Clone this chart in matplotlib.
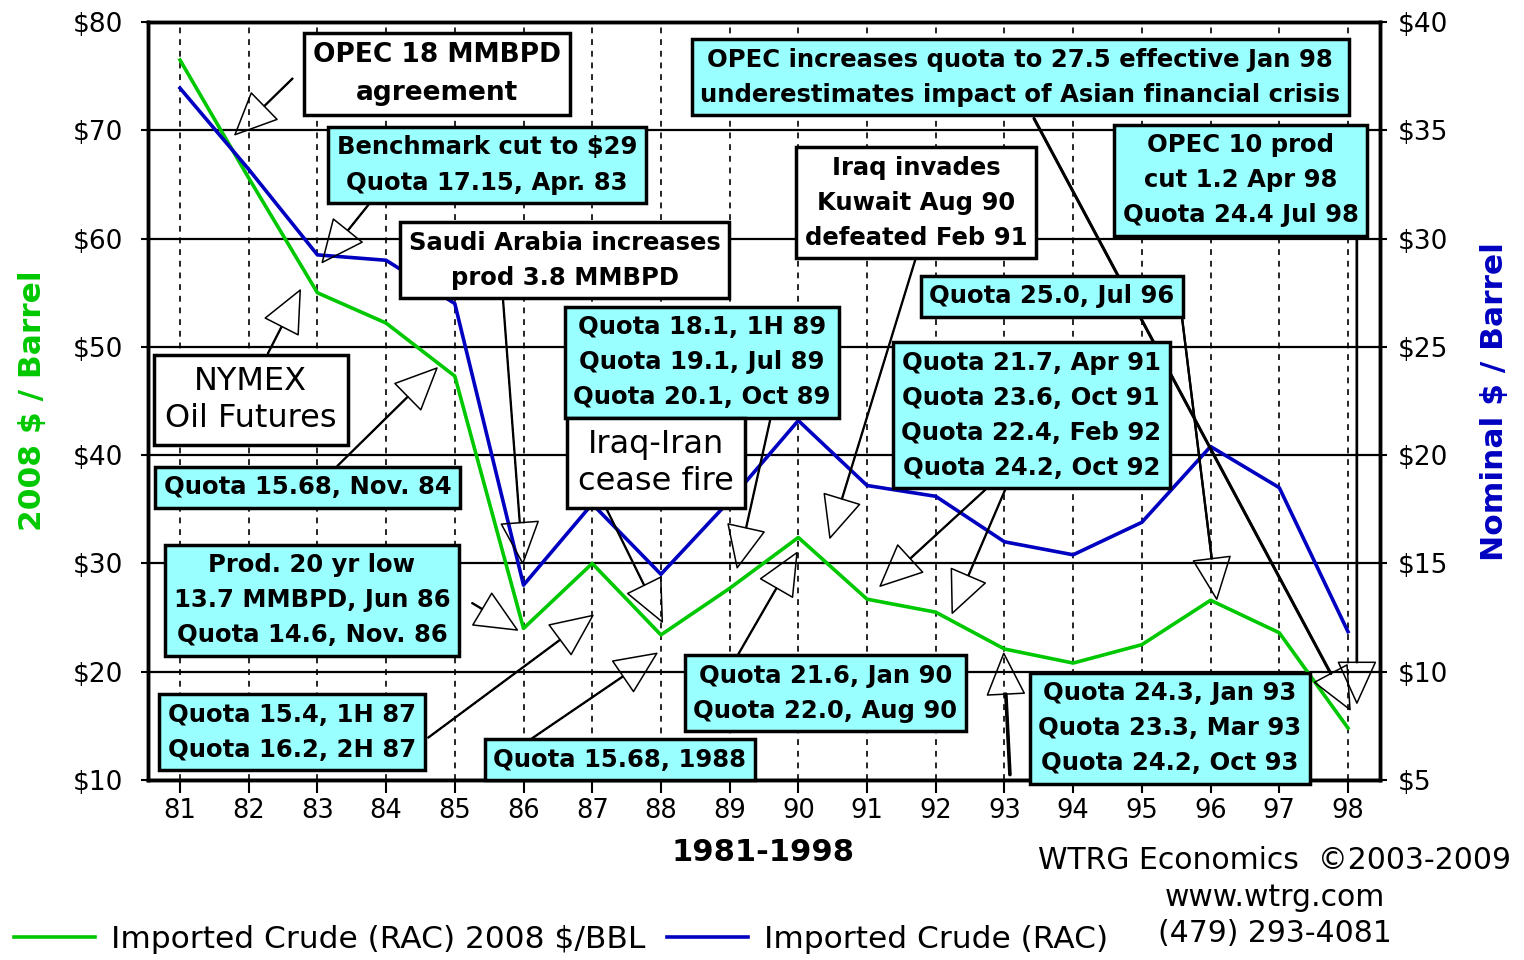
import matplotlib
matplotlib.use('Agg')
import matplotlib.pyplot as plt

plt.rcParams['font.family'] = 'DejaVu Sans'

# imported crude oil price (refiner acquisition cost), 1981-1998
years = list(range(81, 99))
year_labels = [str(y) for y in years]
real_2008 = [76.5, 65.6, 55.0, 52.2, 47.3, 24.0, 30.0, 23.4, 27.7, 32.4,
             26.7, 25.5, 22.1, 20.8, 22.5, 26.6, 23.6, 14.8]
nominal = [36.95, 33.2, 29.25, 29.0, 27.0, 14.0, 17.75, 14.5, 17.9, 21.6,
           18.6, 18.1, 16.0, 15.4, 16.9, 20.4, 18.5, 11.85]

left_ticks = [10, 20, 30, 40, 50, 60, 70, 80]
right_ticks = [5, 10, 15, 20, 25, 30, 35, 40]

CYAN = '#99ffff'
GREEN = '#00c800'
BLUE = '#0000c0'

# event boxes: text, centre (year, 2008 $), fill, size, weight
notes = [
    ("OPEC 18 MMBPD\nagreement", (84.74, 75.2), 'white', 19, 'bold'),
    ("Benchmark cut to $29\nQuota 17.15, Apr. 83", (85.47, 66.8), CYAN, 17.5, 'bold'),
    ("Saudi Arabia increases\nprod 3.8 MMBPD", (86.60, 58.0), 'white', 17.5, 'bold'),
    ("NYMEX\nOil Futures", (82.03, 45.1), 'white', 23, 'normal'),
    ("Quota 15.68, Nov. 84", (82.86, 37.05), CYAN, 17.5, 'bold'),
    ("Quota 18.1, 1H 89\nQuota 19.1, Jul 89\nQuota 20.1, Oct 89", (88.60, 48.6), CYAN, 17.5, 'bold'),
    ("Iraq-Iran\ncease fire", (87.93, 39.3), 'white', 23, 'normal'),
    ("Prod. 20 yr low\n13.7 MMBPD, Jun 86\nQuota 14.6, Nov. 86", (82.92, 26.6), CYAN, 17.5, 'bold'),
    ("Quota 15.4, 1H 87\nQuota 16.2, 2H 87", (82.63, 14.4), CYAN, 17.5, 'bold'),
    ("Quota 15.68, 1988", (87.40, 11.85), CYAN, 17.5, 'bold'),
    ("Quota 21.6, Jan 90\nQuota 22.0, Aug 90", (90.39, 18.0), CYAN, 17.5, 'bold'),
    ("Iraq invades\nKuwait Aug 90\ndefeated Feb 91", (91.71, 63.3), 'white', 17.5, 'bold'),
    ("OPEC increases quota to 27.5 effective Jan 98\nunderestimates impact of Asian financial crisis",
     (93.23, 74.9), CYAN, 17.5, 'bold'),
    ("OPEC 10 prod\ncut 1.2 Apr 98\nQuota 24.4 Jul 98", (96.44, 65.4), CYAN, 17.5, 'bold'),
    ("Quota 25.0, Jul 96", (93.69, 54.7), CYAN, 17.5, 'bold'),
    ("Quota 21.7, Apr 91\nQuota 23.6, Oct 91\nQuota 22.4, Feb 92\nQuota 24.2, Oct 92",
     (93.39, 43.7), CYAN, 17.5, 'bold'),
    ("Quota 24.3, Jan 93\nQuota 23.3, Mar 93\nQuota 24.2, Oct 93", (95.41, 14.8), CYAN, 17.5, 'bold'),
]

# pointers: tail, tip, shaft width (0 = thin default)
pointers = [
    ((82.64, 74.8), (81.80, 69.6), 0),
    ((83.74, 63.1), (83.07, 57.8), 0),
    ((85.70, 54.5), (85.99, 30.0), 0),
    ((82.28, 49.4), (82.75, 55.25), 0),
    ((83.29, 39.0), (84.74, 48.05), 0),
    ((89.59, 43.25), (89.11, 29.6), 0),
    ((87.14, 35.9), (88.02, 24.6), 0),
    ((85.25, 26.35), (85.91, 23.85), 0),
    ((84.61, 13.9), (87.01, 25.2), 0),
    ((86.09, 13.7), (87.94, 21.7), 0),
    ((89.12, 21.55), (89.98, 31.0), 0),
    ((91.70, 58.0), (90.46, 32.35), 0),
    ((93.43, 71.1), (98.03, 16.5), 2.2),
    ((98.13, 60.3), (98.13, 17.1), 1.8),
    ((95.58, 52.95), (96.09, 26.7), 1.6),
    ((92.72, 36.8), (91.19, 27.9), 0),
    ((93.01, 36.8), (92.24, 25.4), 0),
    ((93.08, 10.5), (92.99, 21.7), 2.6),
]

fig, ax = plt.subplots(figsize=(15.24, 9.6), dpi=100)
fig.subplots_adjust(left=0.0971, right=0.9055, top=0.977, bottom=0.1875)

ax.set_xlim(80.534, 98.466)
ax.set_ylim(10, 80)
ax2 = ax.twinx()
ax2.set_ylim(5, 40)

green_line, = ax.plot(years, real_2008, color=GREEN, lw=2.6, zorder=3)
blue_line, = ax2.plot(years, nominal, color=BLUE, lw=2.6, zorder=1)

ax.set_xticks(years)
ax.set_xticklabels(year_labels)
ax.set_yticks(left_ticks)
ax.set_yticklabels(['$%d' % v for v in left_ticks])
ax2.set_yticks(right_ticks)
ax2.set_yticklabels(['$%d' % v for v in right_ticks])

ax.yaxis.grid(True, color='black', lw=1.6)
ax.xaxis.grid(True, color='black', lw=1.2, ls=(0, (3.5, 3.5)))

ax.tick_params(axis='y', direction='out', length=5, width=1.5, pad=13, labelsize=19)
ax.tick_params(axis='x', direction='out', length=9, width=1.5, pad=4, labelsize=18.5)
ax2.tick_params(axis='y', direction='out', length=5, width=1.5, pad=8, labelsize=19)
for a in (ax, ax2):
    for s in a.spines.values():
        s.set_linewidth(2.5)

ax.set_ylabel('2008 $ / Barrel', color=GREEN, fontsize=22.5, fontweight='bold', va='center')
ax.yaxis.set_label_coords(-0.094, 0.501)
ax2.set_ylabel('Nominal $ / Barrel', color=BLUE, fontsize=22.5, fontweight='bold',
               rotation=90, va='center')
ax2.yaxis.set_label_coords(1.093, 0.499)
ax.set_xlabel('1981-1998', fontsize=22, fontweight='bold', va='center')
ax.xaxis.set_label_coords(0.499, -0.096)

HEAD = 28
for tail, tip, w in pointers:
    ax2.annotate('', xy=tip, xytext=tail, xycoords=ax.transData, textcoords=ax.transData,
                 zorder=4,
                 arrowprops=dict(arrowstyle='simple,head_length=1.05,head_width=0.95,tail_width=0.02',
                                 mutation_scale=HEAD, fc='none', ec='black', lw=1.1,
                                 shrinkA=0, shrinkB=0))
    if w:
        # heavier shaft, stopped at the base of the head
        ax2.annotate('', xy=tip, xytext=tail, xycoords=ax.transData, textcoords=ax.transData,
                     zorder=4,
                     arrowprops=dict(arrowstyle='-', color='black', lw=w,
                                     shrinkA=0, shrinkB=HEAD * 1.05))

for text, pos, fill, size, weight in notes:
    ax2.text(pos[0], pos[1], text, transform=ax.transData, ha='center', va='center',
             fontsize=size, fontweight=weight, zorder=5,
             linespacing=1.58 if weight == 'bold' else 1.25,
             bbox=dict(boxstyle='square,pad=0.35', fc=fill, ec='black', lw=2.5))

for y, line in zip([0.104, 0.0656, 0.028],
                   ['WTRG Economics  \u00a92003-2009', 'www.wtrg.com', '(479) 293-4081']):
    fig.text(0.8366, y, line, ha='center', va='center', fontsize=21.5)

fig.legend(handles=[green_line, blue_line],
           labels=['Imported Crude (RAC) 2008 $/BBL', 'Imported Crude (RAC)'],
           loc='center left', bbox_to_anchor=(0.009, 0.021), ncol=2, frameon=False,
           fontsize=22.5, handlelength=2.6, handletextpad=0.5, columnspacing=0.7,
           borderaxespad=0, borderpad=0)

fig.savefig('out.png', dpi=100, facecolor='white')
